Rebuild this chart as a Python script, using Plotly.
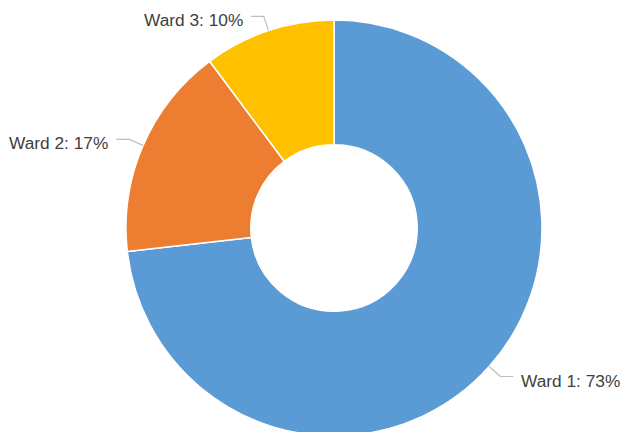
import math
import plotly.graph_objects as go

labels = ["Ward 1", "Ward 2", "Ward 3"]
values = [73.2, 16.6, 10.2]
colors = ["#5B9BD5", "#ED7D31", "#FFC000"]

W, H = 621, 436
cx, cy, r = 334, 228, 208
dom_x = [(cx - r) / W, (cx + r) / W]
dom_y = [max(0, 1 - (cy + r) / H), 1 - (cy - r) / H]

fig = go.Figure(go.Pie(
    labels=labels, values=values, marker=dict(colors=colors, line=dict(color="white", width=1.5)),
    hole=0.4, sort=False, direction="clockwise", rotation=0,
    textinfo="none", hoverinfo="label+percent", showlegend=False,
    domain=dict(x=dom_x, y=dom_y),
))

total = sum(values)
cum = 0
shapes, annotations = [], []
def px(x, y):
    return x / W, 1 - y / H
for lab, v in zip(labels, values):
    mid = 2 * math.pi * (cum + v / 2) / total
    cum += v
    s, c = math.sin(mid), math.cos(mid)
    x0, y0 = cx + r * s, cy - r * c
    x1, y1 = cx + (r + 15) * s, cy - (r + 15) * c
    side = 1 if s >= 0 else -1
    x2 = x1 + side * 13
    p0, p1, p2 = px(x0, y0), px(x1, y1), px(x2, y1)
    shapes.append(dict(type="path", xref="paper", yref="paper",
                       path=f"M {p0[0]},{p0[1]} L {p1[0]},{p1[1]} L {p2[0]},{p2[1]}",
                       line=dict(color="#BFBFBF", width=1.2)))
    tx = px(x2 + side * 6, y1 + 4)
    annotations.append(dict(x=tx[0], y=tx[1], xref="paper", yref="paper",
                            text=f"{lab}: {round(100 * v / total)}%", showarrow=False,
                            xanchor="left" if side > 0 else "right", yanchor="middle",
                            font=dict(family="Liberation Sans, Arial, sans-serif", size=17.3, color="#404040")))

fig.update_layout(width=W, height=H, margin=dict(l=0, r=0, t=0, b=0),
                  paper_bgcolor="white", plot_bgcolor="white",
                  shapes=shapes, annotations=annotations)
fig.write_html("out.html", config={"displayModeBar": False}, post_script=(
    "document.body.style.margin='0';"
    "document.body.style.overflow='hidden';"
    "document.documentElement.style.overflow='hidden';"))
